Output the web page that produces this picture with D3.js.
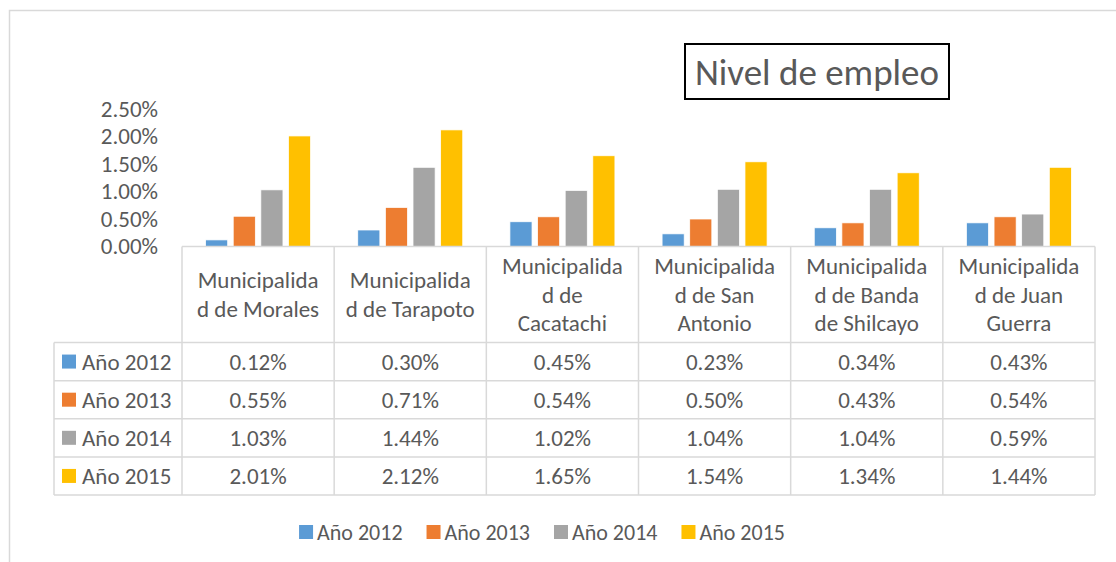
<!DOCTYPE html>
<html>
<head>
<meta charset="utf-8">
<script src="https://cdn.jsdelivr.net/npm/d3@7"></script>
<style>
  body { margin: 0; background: #fff; }
  svg text { font-family: Calibri, Carlito, Lato, sans-serif; fill: #595959; }
</style>
</head>
<body>
<div id="chart"></div>
<script>
// data
var categories = ["Morales", "Tarapoto", "Cacatachi", "San Antonio", "Banda de Shilcayo", "Juan Guerra"];
var categoryLines = [
  ["Municipalida", "d de Morales"],
  ["Municipalida", "d de Tarapoto"],
  ["Municipalida", "d de", "Cacatachi"],
  ["Municipalida", "d de San", "Antonio"],
  ["Municipalida", "d de Banda", "de Shilcayo"],
  ["Municipalida", "d de Juan", "Guerra"]
];
var seriesNames = ["Año 2012", "Año 2013", "Año 2014", "Año 2015"];
var anio2012 = [0.0012, 0.0030, 0.0045, 0.0023, 0.0034, 0.0043];
var anio2013 = [0.0055, 0.0071, 0.0054, 0.0050, 0.0043, 0.0054];
var anio2014 = [0.0103, 0.0144, 0.0102, 0.0104, 0.0104, 0.0059];
var anio2015 = [0.0201, 0.0212, 0.0165, 0.0154, 0.0134, 0.0144];
var yTicks = [0, 0.005, 0.01, 0.015, 0.02, 0.025];

var seriesValues = [anio2012, anio2013, anio2014, anio2015];
var colors = ["#5B9BD5", "#ED7D31", "#A5A5A5", "#FFC000"];
var grid = "#d9d9d9";
var fmt = d3.format(".2%");
var fs = 23;

var W = 1116, H = 562;
var svg = d3.select("#chart").append("svg")
    .attr("width", W)
    .attr("height", H);

// chart area border (runs off right / bottom)
svg.append("rect")
    .attr("x", 9.5).attr("y", 10.5)
    .attr("width", 1300).attr("height", 1000)
    .attr("fill", "none")
    .attr("stroke", grid)
    .attr("stroke-width", 1.5);

var plotLeft = 182, plotRight = 1095, plotTop = 109, plotBottom = 246.5;
var tableLeft = 54, headBottom = 342.5, tableBottom = 495;

var x = d3.scaleBand().domain(categories).range([plotLeft, plotRight]);
var bw = x.bandwidth();
var xs = d3.scaleBand().domain(seriesNames)
    .range([bw * 0.155, bw * 0.845])
    .paddingInner(0.2);
var y = d3.scaleLinear().domain([0, 0.025]).range([plotBottom, plotTop]);
var rows = d3.scaleBand().domain(seriesNames).range([headBottom, tableBottom]);

// y axis
var yAxis = svg.append("g")
    .attr("transform", "translate(160,0)")
    .call(d3.axisLeft(y).tickValues(yTicks).tickFormat(fmt).tickSize(0).tickPadding(2));
yAxis.select(".domain").remove();
yAxis.selectAll("text")
    .attr("font-size", fs)
    .attr("font-family", null)
    .attr("fill", null);

// bars
var groups = svg.selectAll(".serie")
    .data(seriesNames)
    .enter().append("g")
    .attr("class", "serie")
    .attr("fill", function(d, i) { return colors[i]; });

groups.selectAll("rect")
    .data(function(d, i) {
        return categories.map(function(c, j) { return {cat: c, serie: d, v: seriesValues[i][j]}; });
    })
    .enter().append("rect")
    .attr("x", function(d) { return x(d.cat) + xs(d.serie); })
    .attr("width", xs.bandwidth())
    .attr("y", function(d) { return y(d.v); })
    .attr("height", function(d) { return plotBottom - y(d.v); })
    .attr("stroke", "#fff")
    .attr("stroke-width", 0.75);

// data table grid
var tg = svg.append("g")
    .attr("stroke", grid)
    .attr("stroke-width", 1.5)
    .attr("fill", "none");

tg.append("line").attr("x1", plotLeft).attr("x2", plotRight).attr("y1", plotBottom).attr("y2", plotBottom);
seriesNames.forEach(function(s) {
    tg.append("line").attr("x1", tableLeft).attr("x2", plotRight)
        .attr("y1", rows(s)).attr("y2", rows(s));
});
tg.append("line").attr("x1", tableLeft).attr("x2", plotRight).attr("y1", tableBottom).attr("y2", tableBottom);
tg.append("line").attr("x1", tableLeft).attr("x2", tableLeft).attr("y1", headBottom).attr("y2", tableBottom);
categories.forEach(function(c) {
    tg.append("line").attr("x1", x(c)).attr("x2", x(c)).attr("y1", plotBottom).attr("y2", tableBottom);
});
tg.append("line").attr("x1", plotRight).attr("x2", plotRight).attr("y1", plotBottom).attr("y2", tableBottom);

// category headers
var headMid = (plotBottom + headBottom) / 2;
var lineH = 28.5;
categories.forEach(function(c, i) {
    var lines = categoryLines[i];
    var t = svg.append("text")
        .attr("text-anchor", "middle")
        .attr("font-size", fs);
    lines.forEach(function(l, k) {
        t.append("tspan")
            .attr("x", x(c) + bw / 2)
            .attr("y", headMid + (k - (lines.length - 1) / 2) * lineH)
            .attr("dy", "0.35em")
            .text(l);
    });
});

// row labels with keys
seriesNames.forEach(function(s, i) {
    var cy = rows(s) + rows.bandwidth() / 2;
    svg.append("rect")
        .attr("x", 62).attr("y", cy - 7)
        .attr("width", 14).attr("height", 14)
        .attr("fill", colors[i]);
    svg.append("text")
        .attr("x", 82).attr("y", cy)
        .attr("dy", "0.35em")
        .attr("font-size", fs)
        .text(s);
    categories.forEach(function(c, j) {
        svg.append("text")
            .attr("x", x(c) + bw / 2).attr("y", cy)
            .attr("dy", "0.35em")
            .attr("text-anchor", "middle")
            .attr("font-size", fs)
            .text(fmt(seriesValues[i][j]));
    });
});

// title box
svg.append("rect")
    .attr("x", 685).attr("y", 44)
    .attr("width", 264).attr("height", 55)
    .attr("fill", "#fff")
    .attr("stroke", "#000")
    .attr("stroke-width", 2);
svg.append("text")
    .attr("x", 817).attr("y", 72)
    .attr("dy", "0.35em")
    .attr("text-anchor", "middle")
    .attr("font-size", 37)
    .text("Nivel de empleo");

// legend
var legend = svg.append("g").attr("transform", "translate(0,532)");
var lx = 0, gap = 24;
var items = legend.selectAll("g")
    .data(seriesNames)
    .enter().append("g");
items.append("rect")
    .attr("y", -7).attr("width", 14).attr("height", 14)
    .attr("fill", function(d, i) { return colors[i]; });
items.append("text")
    .attr("x", 18).attr("dy", "0.35em")
    .attr("font-size", 22)
    .text(function(d) { return d; });
items.each(function() {
    var w = this.getBBox().width;
    d3.select(this).attr("transform", "translate(" + lx + ",0)");
    lx += w + gap;
});
lx -= gap;
legend.attr("transform", "translate(" + (542 - lx / 2) + ",532)");
</script>
</body>
</html>
